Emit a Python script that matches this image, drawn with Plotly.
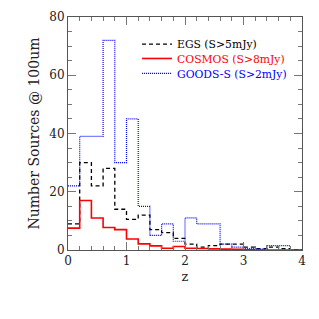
import plotly.graph_objects as go

bin_edges = [round(0.2 * i, 1) for i in range(21)]

egs = [9, 30, 22, 28, 14, 10.5, 12, 7, 6, 4, 2, 1, 1.5, 2, 2, 1, 0.5, 1, 0.5, 0]
cosmos = [7.5, 17, 11, 7.7, 7, 3.8, 2.1, 1.4, 0.6, 1.2, 0.6, 0.5, 0.4, 0.3, 0.2, 0.1, 0, 0, 0, 0]
goods = [22, 39, 39, 72, 30, 45, 15, 5, 9, 3, 11, 9, 9, 2, 1, 0.5, 0.3, 1.5, 1.5, 0]

names = ["EGS (S>5mJy)", "COSMOS (S>8mJy)", "GOODS-S (S>2mJy)"]
colors = ["black", "red", "blue"]
dashes = ["4px,3px", "solid", "1px,1px"]
widths = [1.3, 1.6, 1.2]
series = [egs, cosmos, goods]
legend_ids = ["legend", "legend2", "legend3"]
legend_rows = [0.884, 0.822, 0.758]

x_ticks = [0, 1, 2, 3, 4]
y_ticks = [0, 20, 40, 60, 80]

font = "DejaVu Serif"

fig = go.Figure()
for name, vals, col, dsh, w, lid in zip(names, series, colors, dashes, widths, legend_ids):
    fig.add_trace(go.Scatter(
        x=bin_edges, y=vals + [vals[-1]],
        mode="lines", line=dict(color=col, dash=dsh, width=w, shape="hv"),
        name=name, legend=lid, showlegend=True,
    ))

legends = {}
for lid, col, yr in zip(legend_ids, colors, legend_rows):
    legends[lid] = dict(x=0.295, y=yr, xanchor="left", yanchor="middle",
                        bgcolor="rgba(0,0,0,0)", borderwidth=0,
                        font=dict(size=10.8, family=font, color=col),
                        itemwidth=30)

fig.update_layout(
    width=319, height=319,
    margin=dict(l=68, r=17, t=17, b=69),
    paper_bgcolor="white", plot_bgcolor="white",
    font=dict(family=font, size=12, color="#222"),
    showlegend=True,
    xaxis=dict(range=[0, 4], tickvals=x_ticks, ticks="inside", ticklen=8,
               tickcolor="#777", showline=True, linecolor="#555", mirror="ticks",
               showgrid=False, zeroline=False, automargin=False,
               minor=dict(dtick=0.2, ticks="inside", ticklen=4, tickcolor="#777", showgrid=False),
               title=dict(text="z", standoff=4, font=dict(size=13))),
    yaxis=dict(range=[0, 80], tickvals=y_ticks, ticks="inside", ticklen=8,
               tickcolor="#777", showline=True, linecolor="#555", mirror="ticks",
               showgrid=False, zeroline=False, automargin=False,
               minor=dict(dtick=5, ticks="inside", ticklen=4, tickcolor="#777", showgrid=False),
               title=dict(text="Number Sources @ 100um", standoff=6, font=dict(size=14))),
    **legends,
)
fig.write_html("out.html", config={"displayModeBar": False},
               post_script="document.body.style.margin='0';")
